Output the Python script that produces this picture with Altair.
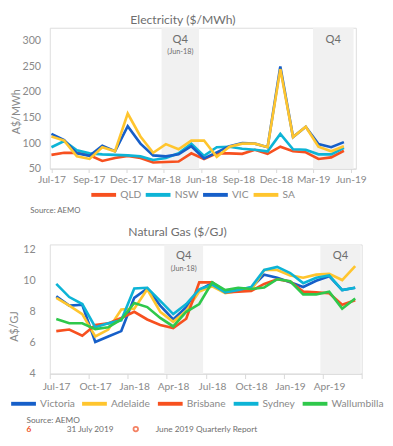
import altair as alt
import pandas as pd

# ---------------- data ----------------
elec_series = ["QLD", "NSW", "VIC", "SA"]
qld = [77, 81, 81, 76, 65, 71, 75, 71, 62, 63, 64, 80, 69, 80, 80, 79, 87, 79, 93, 84, 82, 69, 72, 85]
nsw = [92, 104, 86, 80, 78, 77, 76, 74, 67, 71, 80, 99, 75, 92, 93, 89, 87, 84, 118, 88, 87, 78, 78, 91]
vic = [118, 106, 80, 75, 95, 84, 133, 99, 76, 74, 78, 94, 70, 82, 94, 100, 99, 92, 250, 112, 132, 98, 92, 102]
sa = [113, 105, 74, 69, 92, 84, 158, 113, 81, 98, 88, 105, 105, 73, 93, 99, 99, 92, 245, 112, 132, 93, 84, 94]
elec_tick_labels = ["Jul-17", "Sep-17", "Dec-17", "Mar-18", "Jun-18", "Sep-18", "Dec-18", "Mar-19", "Jun-19"]
elec_y_ticks = [50, 100, 150, 200, 250, 300]

gas_series = ["Victoria", "Adelaide", "Brisbane", "Sydney", "Wallumbilla"]
victoria = [9.0, 8.4, 8.45, 6.05, 6.4, 6.75, 8.9, 9.5, 8.4, 7.5, 8.3, 9.4, 9.85, 9.35, 9.45, 9.55, 10.4, 10.2, 9.9, 9.6, 10.0, 10.3, 9.4, 9.55]
adelaide = [8.9, 8.4, 7.85, 6.4, 6.85, 8.15, 8.2, 9.45, 8.0, 7.35, 8.05, 9.3, 9.65, 9.2, 9.35, 9.4, 10.7, 10.7, 10.35, 10.2, 10.4, 10.45, 10.05, 10.95]
brisbane = [6.75, 6.85, 6.45, 7.15, 7.25, 7.6, 8.0, 7.5, 7.15, 6.95, 7.55, 9.9, 9.9, 9.25, 9.3, 9.35, 9.8, 10.1, 9.95, 9.3, 9.25, 9.2, 8.45, 8.75]
sydney = [9.8, 8.95, 8.5, 7.0, 7.25, 7.45, 9.5, 9.55, 8.7, 7.85, 8.5, 9.45, 9.75, 9.25, 9.4, 9.6, 10.7, 10.9, 10.5, 9.85, 10.2, 10.35, 9.4, 9.55]
wallumbilla = [7.53, 7.26, 7.26, 6.88, 7.0, 7.5, 8.57, 8.3, 7.6, 7.05, 8.0, 8.5, 9.9, 9.4, 9.55, 9.47, 9.57, 10.1, 9.97, 9.12, 9.12, 9.3, 8.2, 8.86]
gas_tick_labels = ["Jul-17", "Oct-17", "Jan-18", "Apr-18", "Jul-18", "Oct-18", "Jan-19", "Apr-19", ""]
gas_y_ticks = [4, 6, 8, 10, 12]

# shaded quarters (in month-index units)
elec_shade_start = [8.66, 20.57]
elec_shade_end = [11.61, 23.76]
gas_shade_start = [8.31, 20.32]
gas_shade_end = [11.3, 23.43]
shade_label = ["Q4", "Q4"]
shade_sublabel = ["(Jun-18)", ""]

source_text = "Source: AEMO"
page_no = "6"
date_text = "31 July 2019"
report_text = "June 2019 Quarterly Report"

# ---------------- styles ----------------
FONT = "Lato"
elec_colors = ["#F7501F", "#0DB4D6", "#165FC9", "#FFC52E"]
gas_colors = ["#165FC9", "#FFC52E", "#F7501F", "#0DB4D6", "#2FC84B"]
TXT = "#6e6e6e"
LAB = "#8a8a8a"
SHADE = "#F1F1F1"
AX = "#d8d8d8"

EW, EH = 315, 145
GW, GH = 321, 133
elec_step = 2.942


def long_df(names, arrays):
    rows = []
    for k, (n, vals) in enumerate(zip(names, arrays)):
        for i, v in enumerate(vals):
            rows.append({"m": i, "series": n, "v": v, "k": k})
    return pd.DataFrame(rows)


elec_df = long_df(elec_series, [qld, nsw, vic, sa])
gas_df = long_df(gas_series, [victoria, adelaide, brisbane, sydney, wallumbilla])

elec_label_js = "[" + ",".join("'%s'" % s for s in elec_tick_labels) + "]"
gas_label_js = "[" + ",".join("'%s'" % s for s in gas_tick_labels) + "]"

elec_xscale = alt.Scale(domain=[-0.13, 23.94], nice=False, zero=False)
elec_xaxis = alt.Axis(values=[elec_step * k for k in range(len(elec_tick_labels))],
                      labelExpr=elec_label_js + "[round(datum.value/%f)]" % elec_step,
                      title=None, grid=False, domainColor=AX, tickColor=AX, tickSize=4,
                      labelOverlap=False, labelFlush=False,
                      labelPadding=2, labelFontSize=10.5, labelColor=LAB, labelFont=FONT)
gas_xscale = alt.Scale(domain=[-0.5, 23.5], nice=False, zero=False)
gas_xaxis = alt.Axis(values=[-0.5 + 3 * k for k in range(len(gas_tick_labels))],
                     labelExpr=gas_label_js + "[round((datum.value+0.5)/3)]",
                     title=None, grid=False, domainColor=AX, tickColor=AX, tickSize=5,
                     labelOverlap=False, labelFlush=False,
                     labelPadding=3.5, labelOffset=6.5, labelFontSize=10.5, labelColor=LAB, labelFont=FONT)

# ---------------- electricity ----------------
elec_shade_df = pd.DataFrame({"x0": elec_shade_start, "x1": elec_shade_end,
                              "lab": shade_label, "sub": shade_sublabel})
e_rect = alt.Chart(elec_shade_df).mark_rect(color=SHADE).encode(
    x=alt.X("x0:Q", scale=elec_xscale, axis=elec_xaxis), x2="x1:Q",
    y=alt.value(0), y2=alt.value(EH))
e_q4 = alt.Chart(elec_shade_df).transform_calculate(xc="(datum.x0+datum.x1)/2").mark_text(
    fontSize=11.5, color=TXT, font=FONT).encode(
    x=alt.X("xc:Q", scale=elec_xscale, axis=elec_xaxis), y=alt.value(13), text="lab:N")
e_sub = alt.Chart(elec_shade_df).transform_calculate(xc="(datum.x0+datum.x1)/2").mark_text(
    fontSize=7.5, color=TXT, font=FONT).encode(
    x=alt.X("xc:Q", scale=elec_xscale, axis=elec_xaxis), y=alt.value(25.5), text="sub:N")
e_lines = alt.Chart(elec_df).mark_line(strokeWidth=2.7).encode(
    x=alt.X("m:Q", scale=elec_xscale, axis=elec_xaxis),
    y=alt.Y("v:Q", scale=alt.Scale(domain=[50, 326], nice=False, zero=False),
            axis=alt.Axis(values=elec_y_ticks, title="A$/MWh", grid=False, domain=False, ticks=False,
                          labelPadding=9.5, labelFontSize=11, labelColor=LAB, labelFont=FONT,
                          titleFontSize=11, titleColor=LAB, titleFont=FONT, titleFontWeight="normal",
                          titleX=-34.5, titleY=86, titleBaseline="middle", titleAlign="center")),
    color=alt.Color("series:N", scale=alt.Scale(domain=elec_series, range=elec_colors),
                    legend=alt.Legend(orient="none", legendX=40.5, legendY=157, direction="horizontal",
                                      title=None, symbolType="stroke", symbolStrokeWidth=4,
                                      symbolSize=650, labelFontSize=10.5, labelColor=LAB, labelFont=FONT,
                                      labelOffset=2, columnPadding=-4, padding=0)),
    order=alt.Order("m:Q"))
e_source = alt.Chart(pd.DataFrame({"t": [source_text]})).mark_text(
    fontSize=8, color=TXT, font=FONT, align="left", baseline="middle").encode(
    x=alt.value(-20), y=alt.value(188.5), text="t:N")

elec = alt.layer(e_rect, e_q4, e_sub, e_lines, e_source).properties(
    width=EW, height=EH,
    title=alt.TitleParams("Electricity ($/MWh)", fontSize=12.5, color=TXT, font=FONT,
                          fontWeight="normal", anchor="middle", dx=-20.5, offset=1))

# ---------------- gas ----------------
gas_shade_df = pd.DataFrame({"x0": gas_shade_start, "x1": gas_shade_end,
                             "lab": shade_label, "sub": shade_sublabel})
g_rect = alt.Chart(gas_shade_df).mark_rect(color=SHADE).encode(
    x=alt.X("x0:Q", scale=gas_xscale, axis=gas_xaxis), x2="x1:Q",
    y=alt.value(0), y2=alt.value(GH))
g_q4 = alt.Chart(gas_shade_df).transform_calculate(xc="(datum.x0+datum.x1)/2").mark_text(
    fontSize=11.5, color=TXT, font=FONT).encode(
    x=alt.X("xc:Q", scale=gas_xscale, axis=gas_xaxis), y=alt.value(12.5), text="lab:N")
g_sub = alt.Chart(gas_shade_df).transform_calculate(xc="(datum.x0+datum.x1)/2").mark_text(
    fontSize=7.5, color=TXT, font=FONT).encode(
    x=alt.X("xc:Q", scale=gas_xscale, axis=gas_xaxis), y=alt.value(25), text="sub:N")
g_lines = alt.Chart(gas_df).mark_line(strokeWidth=2.7).encode(
    x=alt.X("m:Q", scale=gas_xscale, axis=gas_xaxis),
    y=alt.Y("v:Q", scale=alt.Scale(domain=[4, 12.35], nice=False, zero=False),
            axis=alt.Axis(values=gas_y_ticks, title="A$/GJ", grid=False, domain=False, ticks=False,
                          labelPadding=15, labelFontSize=11, labelColor=LAB, labelFont=FONT,
                          titleFontSize=11, titleColor=LAB, titleFont=FONT, titleFontWeight="normal",
                          titleX=-36, titleY=84, titleBaseline="middle", titleAlign="center")),
    color=alt.Color("series:N", scale=alt.Scale(domain=gas_series, range=gas_colors),
                    legend=alt.Legend(orient="none", legendX=-42, legendY=149, direction="horizontal",
                                      title=None, symbolType="stroke", symbolStrokeWidth=4,
                                      symbolSize=650, labelFontSize=10.5, labelColor=LAB, labelFont=FONT,
                                      labelOffset=2, columnPadding=-1, padding=0)),
    order=alt.Order("m:Q"))
g_source = alt.Chart(pd.DataFrame({"t": [source_text]})).mark_text(
    fontSize=8.5, color=TXT, font=FONT, align="left", baseline="middle").encode(
    x=alt.value(-24), y=alt.value(180.5), text="t:N")
g_page = alt.Chart(pd.DataFrame({"t": [page_no]})).mark_text(
    fontSize=8.5, color="#F04E23", font=FONT, fontWeight="bold", align="left", baseline="middle").encode(
    x=alt.value(-24), y=alt.value(190), text="t:N")
g_date = alt.Chart(pd.DataFrame({"t": [date_text]})).mark_text(
    fontSize=8.5, color=TXT, font=FONT, align="left", baseline="middle").encode(
    x=alt.value(17.5), y=alt.value(190), text="t:N")
g_ring = alt.Chart(pd.DataFrame({"t": [report_text]})).mark_point(
    shape="circle", filled=False, color="#F04E23", strokeWidth=1.8, size=22).encode(
    x=alt.value(88.5), y=alt.value(190))
g_report = alt.Chart(pd.DataFrame({"t": [report_text]})).mark_text(
    fontSize=8.5, color=TXT, font=FONT, align="left", baseline="middle").encode(
    x=alt.value(109), y=alt.value(190), text="t:N")

gas = alt.layer(g_rect, g_q4, g_sub, g_lines, g_source, g_page, g_date, g_ring, g_report).properties(
    width=GW, height=GH,
    title=alt.TitleParams("Natural Gas ($/GJ)", fontSize=12.5, color=TXT, font=FONT,
                          fontWeight="normal", anchor="middle", dx=-29, offset=6))

chart = alt.vconcat(elec, gas, spacing=10).resolve_scale(color="independent").resolve_legend(
    color="independent").properties(padding=0).configure_view(stroke=None).configure(font=FONT)

chart.save("out.html", embed_options={"renderer": "svg", "actions": False})
